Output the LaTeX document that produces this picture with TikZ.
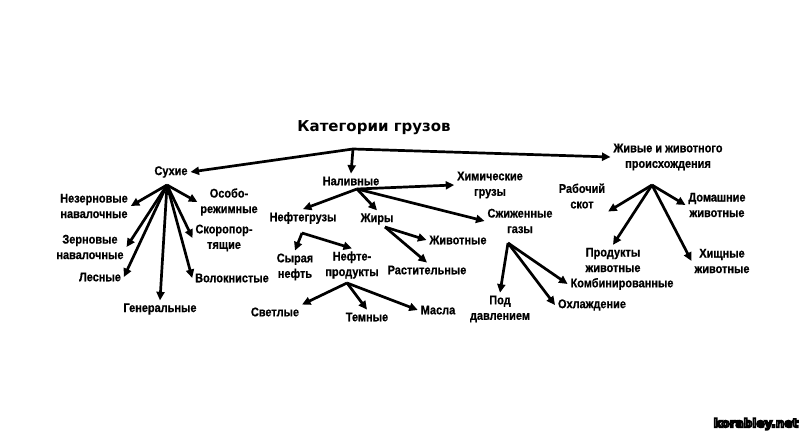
\documentclass[tikz,border=0pt]{standalone}
\usepackage{fontspec}
\setmainfont{Liberation Sans}[FakeStretch=0.87,BoldFeatures={FakeBold=0.6}]
\newfontfamily\wmfont{DejaVu Sans}
\usetikzlibrary{arrows.meta}

\begin{document}
\begin{tikzpicture}[x=1pt,y=-1pt,
  lbl/.style={font=\bfseries\fontsize{12.6}{15.5}\selectfont,align=center,inner sep=1pt,outer sep=2pt},
  arr/.style={line width=2.7pt,line join=round,-{Triangle[length=8.5pt,width=8pt]}},
  wm/.style={font=\wmfont\bfseries\fontsize{12}{12}\selectfont,inner sep=0pt}]
\useasboundingbox[fill=white] (0,0) rectangle (803,435);
% top level
\node[lbl,font=\wmfont\bfseries\fontsize{15}{18}\selectfont] (title) at (374,128) {Категории грузов};
\node[lbl] (suh) at (171,172) {Сухие};
\node[lbl] (nal) at (351,181) {Наливные};
\node[lbl] (zhiv) at (668,157) {Живые и животного\\происхождения};
% dry
\node[lbl] (nez) at (94,206) {Незерновые\\навалочные};
\node[lbl] (zer) at (90,247) {Зерновые\\навалочные};
\node[lbl] (les) at (100,277) {Лесные};
\node[lbl] (gen) at (160,309) {Генеральные};
\node[lbl] (vol) at (232,278) {Волокнистые};
\node[lbl] (skor) at (224,238) {Скоропор-\\тящие};
\node[lbl] (osob) at (229,202) {Особо-\\режимные};
% liquid
\node[lbl] (nefg) at (303,218) {Нефтегрузы};
\node[lbl] (him) at (490,185) {Химические\\грузы};
\node[lbl] (zhir) at (377,219) {Жиры};
\node[lbl] (szh) at (520,221) {Сжиженные\\газы};
\node[lbl] (zhivot) at (458,240) {Животные};
\node[lbl] (rast) at (427,270) {Растительные};
\node[lbl] (syr) at (295,267) {Сырая\\нефть};
\node[lbl] (nefp) at (352,265) {Нефте-\\продукты};
\node[lbl] (svet) at (275,312) {Светлые};
\node[lbl] (tem) at (367,317) {Темные};
\node[lbl] (masl) at (438,310) {Масла};
\node[lbl] (pod) at (500,309) {Под\\давлением};
\node[lbl] (ohl) at (592,305) {Охлаждение};
\node[lbl] (komb) at (622,284) {Комбинированные};
% live
\node[lbl] (rab) at (582,196) {Рабочий\\скот};
\node[lbl] (dom) at (717,205) {Домашние\\животные};
\node[lbl] (prod) at (613,260) {Продукты\\животные};
\node[lbl] (hish) at (722,261) {Хищные\\животные};

% hubs
\coordinate (top) at (353,149);
\coordinate (suhH) at (167,185);
\coordinate (nalH) at (357,189);
\coordinate (zhirH) at (385,227);
\coordinate (nefgH) at (302,233);
\coordinate (nefpH) at (347,283);
\coordinate (szhH) at (508,243);
\coordinate (zhivH) at (652,185);

\draw[arr] (top) -- (suh.east);
\draw[arr] (top) -- (zhiv.west);
\draw[arr] (top) -- (nal.north);
\foreach \t in {nez.east,zer.east,les.east,gen.north,vol.west,skor.west,osob.west}
  \draw[arr] (suhH) -- (\t);
\foreach \t in {nefg.north,him.west,zhir.north,szh.west}
  \draw[arr] (nalH) -- (\t);
\foreach \t in {zhivot.west,rast.north}
  \draw[arr] (zhirH) -- (\t);
\foreach \t in {syr.north,nefp.north}
  \draw[arr] (nefgH) -- (\t);
\foreach \t in {svet.north east,tem.north,masl.west}
  \draw[arr] (nefpH) -- (\t);
\foreach \t in {pod.north,ohl.west,komb.west}
  \draw[arr] (szhH) -- (\t);
\foreach \t in {rab.south east,dom.west,prod.north,hish.west}
  \draw[arr] (zhivH) -- (\t);

% watermark
\node[wm] (wm) at (756,424) {\special{pdf:code q 2 Tr 1.6 w 0 G 1 g}korabley.net\special{pdf:code Q}};
\end{tikzpicture}
\end{document}
